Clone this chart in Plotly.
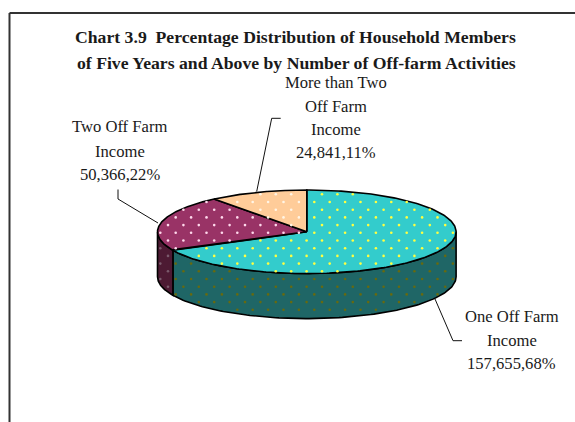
import numpy as np
import plotly.graph_objects as go

# --- data ---
categories = ["One Off Farm Income", "Two Off Farm Income", "More than Two Off Farm Income"]
values = [157655, 50366, 24841]
percent_labels = ["68%", "22%", "11%"]
label_lines = [
    ["One Off Farm", "Income", "157,655,68%"],
    ["Two Off Farm", "Income", "50,366,22%"],
    ["More than Two", "Off Farm", "Income", "24,841,11%"],
]
title_lines = [
    "Chart 3.9  Percentage Distribution of Household Members",
    "of Five Years and Above by Number of Off-farm Activities",
]

# --- styling ---
top_colors = ["#33CCCC", "#993366", "#FFCC99"]
side_colors = ["#1F6666", "#4D1A33", "#7F6A50"]
top_dots = ["#FFFF40", "#FFD9EC", "#FFF5E6"]
side_dots = ["#666A10", "#7A5A6C", "#999999"]
FONT = "Liberation Serif"
W, H = 575, 422
CX, CY, RX, RY, DEPTH = 306.8, 231.8, 149.3, 41.8, 45.0
DX, DY = 15.4, 7.7
DX0, DY0 = 314.3, 202.0

fractions = np.array(values, float) / sum(values)
edges = np.concatenate([[0.0], np.cumsum(fractions)]) * 2 * np.pi  # clockwise from top


def ex(t):
    return CX + RX * np.sin(t)


def ey(t):
    return CY - RY * np.cos(t)


fig = go.Figure()


def poly(xs, ys, color):
    fig.add_trace(go.Scatter(x=xs, y=ys, mode="lines", fill="toself", fillcolor=color,
                             line=dict(color="#000000", width=1.6), hoverinfo="skip",
                             showlegend=False))


def dots(xs, ys, color):
    fig.add_trace(go.Scatter(x=xs, y=ys, mode="markers",
                             marker=dict(color=color, size=2.6, line=dict(width=0)),
                             hoverinfo="skip", showlegend=False))


# dot lattice of the pattern fill
rows = np.arange(-6, 30)
cols = np.arange(-14, 14)
gx, gy = [], []
for r in rows:
    for c in cols:
        gx.append(DX0 + c * DX + (DX / 2 if r % 2 else 0))
        gy.append(DY0 + r * DY)
gx, gy = np.array(gx), np.array(gy)

# side walls (visible part: between the right and left extremes, front side)
for i in range(len(values)):
    a = max(edges[i], np.pi / 2)
    b = min(edges[i + 1], 3 * np.pi / 2)
    if b <= a:
        continue
    t = np.linspace(a, b, 120)
    xs = np.concatenate([ex(t), ex(t[::-1])])
    ys = np.concatenate([ey(t), ey(t[::-1]) + DEPTH])
    poly(list(xs) + [xs[0]], list(ys) + [ys[0]], side_colors[i])
    xlo, xhi = sorted([ex(a), ex(b)])
    inner = np.clip((gx - CX) / RX, -1, 1)
    yarc = CY + RY * np.sqrt(1 - inner ** 2)
    m = (gx > xlo + 1) & (gx < xhi - 1) & (gy > yarc + 1.5) & (gy < yarc + DEPTH - 1.5)
    dots(gx[m], gy[m], side_dots[i])

# top face
for i in range(len(values)):
    t = np.linspace(edges[i], edges[i + 1], 240)
    xs = [CX] + list(ex(t)) + [CX]
    ys = [CY] + list(ey(t)) + [CY]
    poly(xs, ys, top_colors[i])
    u, v = (gx - CX) / RX, (gy - CY) / RY
    ang = np.mod(np.arctan2(u, -v), 2 * np.pi)
    m = (u ** 2 + v ** 2 < 0.97) & (ang > edges[i] + 0.02) & (ang < edges[i + 1] - 0.02)
    dots(gx[m], gy[m], top_dots[i])

# leader lines
leaders = [
    ([435, 453, 462], [299, 340.7, 340.7]),
    ([118, 118, 158], [189.5, 199, 223]),
    ([256.7, 271.7, 280.7], [191.5, 118.3, 118.3]),
]
for lx, ly in leaders:
    fig.add_trace(go.Scatter(x=lx, y=ly, mode="lines", line=dict(color="#111111", width=1),
                             hoverinfo="skip", showlegend=False))

annotations = []


def text(x, y, s, size, bold=False):
    annotations.append(dict(x=x, y=y, xref="x", yref="y", text=f"<b>{s}</b>" if bold else s,
                            showarrow=False, xanchor="center", yanchor="middle",
                            font=dict(family=FONT, size=size, color="#1a1a1a")))


text(295.5, 36.7, title_lines[0], 17.7, True)
text(296, 62.7, title_lines[1], 17.7, True)
for lines, cx, ys in [
    (label_lines[0], 511.7, [316, 340, 363]),
    (label_lines[1], 119.5, [126.5, 151, 174]),
    (label_lines[2], 336, [82.5, 106.5, 129, 152]),
]:
    for s, y in zip(lines, ys):
        text(cx, y, s, 16.6)

fig.update_layout(
    width=W, height=H, margin=dict(l=0, r=0, t=0, b=0),
    paper_bgcolor="#FFFFFF", plot_bgcolor="#FFFFFF", showlegend=False,
    xaxis=dict(range=[0, W], visible=False, fixedrange=True),
    yaxis=dict(range=[H, 0], visible=False, fixedrange=True),
    annotations=annotations,
    shapes=[
        dict(type="line", xref="x", yref="y", x0=9.5, x1=W, y0=13, y1=13,
             line=dict(color="#333333", width=2)),
        dict(type="line", xref="x", yref="y", x0=9.5, x1=9.5, y0=13, y1=H,
             line=dict(color="#333333", width=2)),
    ],
)
fig.write_html("out.html", config=dict(displayModeBar=False),
               post_script="document.body.style.margin='0';document.body.style.overflow='hidden';")
